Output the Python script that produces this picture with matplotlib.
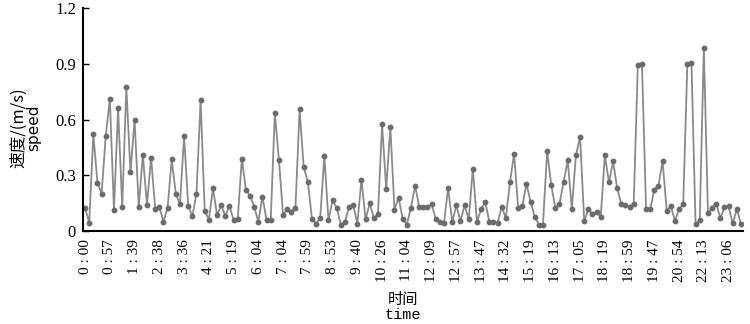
import matplotlib
matplotlib.use("Agg")
import matplotlib.pyplot as plt

# speed readings (m/s), one every ~9 minutes
speed = [
    0.125, 0.045, 0.52, 0.26, 0.20, 0.51, 0.71, 0.115, 0.66, 0.13,
    0.775, 0.315, 0.60, 0.13, 0.41, 0.14, 0.395, 0.12, 0.13, 0.05,
    0.125, 0.385, 0.20, 0.145, 0.51, 0.135, 0.08, 0.20, 0.705, 0.11,
    0.06, 0.23, 0.085, 0.14, 0.08, 0.135, 0.06, 0.063, 0.39, 0.22,
    0.19, 0.13, 0.05, 0.185, 0.057, 0.06, 0.635, 0.38, 0.085, 0.12,
    0.105, 0.125, 0.655, 0.345, 0.265, 0.065, 0.04, 0.07, 0.405, 0.057,
    0.165, 0.125, 0.035, 0.05, 0.13, 0.14, 0.04, 0.275, 0.063, 0.15,
    0.07, 0.09, 0.575, 0.225, 0.56, 0.115, 0.18, 0.065, 0.035, 0.125,
    0.245, 0.13, 0.13, 0.13, 0.143, 0.066, 0.05, 0.041, 0.23, 0.05,
    0.138, 0.054, 0.138, 0.063, 0.336, 0.05, 0.116, 0.157, 0.05, 0.05,
    0.043, 0.13, 0.07, 0.262, 0.416, 0.123, 0.135, 0.255, 0.157, 0.077,
    0.035, 0.035, 0.43, 0.25, 0.123, 0.145, 0.262, 0.38, 0.12, 0.41,
    0.505, 0.054, 0.116, 0.093, 0.103, 0.075, 0.407, 0.262, 0.375, 0.229,
    0.146, 0.14, 0.13, 0.148, 0.893, 0.90, 0.116, 0.116, 0.223, 0.245,
    0.375, 0.11, 0.134, 0.054, 0.12, 0.143, 0.898, 0.905, 0.036, 0.057,
    0.986, 0.095, 0.125, 0.148, 0.068, 0.129, 0.132, 0.041, 0.116, 0.039,
]

time_labels = [
    "0:00", "0:57", "1:39", "2:38", "3:36", "4:21", "5:19", "6:04",
    "7:04", "7:59", "8:53", "9:40", "10:26", "11:04", "12:09", "12:57",
    "13:47", "14:32", "15:19", "16:13", "17:05", "18:19", "18:59",
    "19:47", "20:54", "22:13", "23:06",
]

plt.rcParams['font.family'] = ['Liberation Serif', 'Noto Sans CJK SC']

fig = plt.figure(figsize=(7.5, 3.24), dpi=100)
ax = fig.add_axes([0.1107, 0.287, 0.88, 0.688])

x = list(range(len(speed)))
ax.plot(x, speed, color="#8a8a8a", linewidth=1.3, marker="o",
        markersize=3.2, markerfacecolor="#6b6b6b", markeredgecolor="#6b6b6b")

ax.set_xlim(-0.5, 159.5)
ax.set_ylim(0, 1.2)
ax.set_yticks([0, 0.3, 0.6, 0.9, 1.2])
ax.set_yticklabels(["0", "0.3", "0.6", "0.9", "1.2"], fontsize=12)

tick_pos = [i * 6 for i in range(len(time_labels))]
ax.set_xticks(tick_pos)
ax.set_xticklabels([t.replace(":", " : ") for t in time_labels],
                   rotation=90, fontsize=11)

ax.tick_params(axis="y", direction="in", length=4, width=1, pad=5)
ax.tick_params(axis="x", length=0, pad=6)

for side in ["top", "right"]:
    ax.spines[side].set_visible(False)
for side in ["left", "bottom"]:
    ax.spines[side].set_linewidth(1.5)

# axis titles, chinese on top / english below
fig.text(0.025, 0.605, "速度/(m/s)", rotation=90, fontsize=12,
         ha="center", va="center", family=["Noto Sans CJK SC"])
fig.text(0.045, 0.605, "speed", rotation=90, fontsize=11,
         ha="center", va="center", family=["DejaVu Sans"])
fig.text(0.537, 0.075, "时间", fontsize=11, ha="center", va="center",
         family=["Noto Sans CJK SC"])
fig.text(0.537, 0.028, "time", fontsize=11, ha="center", va="center",
         family=["Liberation Mono"])

fig.savefig("out.png", dpi=100)
plt.close(fig)
